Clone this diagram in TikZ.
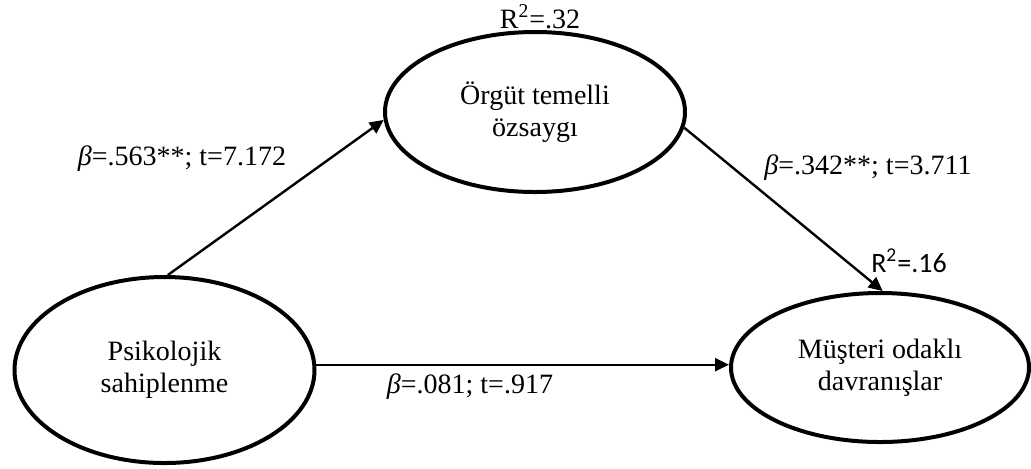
\documentclass[tikz,border=0pt]{standalone}
\usepackage{fontspec}
\setmainfont{Liberation Serif}
\newfontfamily\calibri{Carlito}
\usetikzlibrary{shapes.geometric,arrows.meta}
\tikzset{
	latent/.style={
		ellipse,
		draw,
		line width=2pt,
		inner sep=0pt,
		align=center,
		font=\fontsize{14}{16}\selectfont
	},
	coef/.style={
		inner sep=0pt,
		anchor=base,
		font=\fontsize{14}{16}\selectfont
	}
}

\begin{document}
\begin{tikzpicture}[
	x=0.5pt, y=-0.5pt,
	effect/.style={-{Triangle[length=7pt,width=6.5pt]}, line width=1.2pt}
]
\useasboundingbox (0,0) rectangle (1031,468);
\node[latent, minimum width=150pt, minimum height=80pt] (org) at (535,112) {Örgüt temelli\\özsaygı};
\node[latent, minimum width=150pt, minimum height=93pt] (ps) at (164.5,370) {Psikolojik\\sahiplenme};
\node[latent, minimum width=149pt, minimum height=74.5pt] (mo) at (880,367.5) {Müşteri odaklı\\davranışlar};
\draw[effect] (ps.88) -- (org.183);
\draw[effect] (org.-6) -- (mo.88);
\draw[effect] (ps.2) -- (ps.2 -| mo.west);
\node[coef] (r2org) at (540,28) {R\textsuperscript{2}=.32};
\node[coef, font=\calibri\fontsize{14}{16}\selectfont] (r2mo) at (909,272) {R\textsuperscript{2}=.16};
\node[coef] (b1) at (182,165) {\textit{β}=.563**; t=7.172};
\node[coef] (b2) at (868,174) {\textit{β}=.342**; t=3.711};
\node[coef] (b3) at (470,393) {\textit{β}=.081; t=.917};
\end{tikzpicture}
\end{document}
